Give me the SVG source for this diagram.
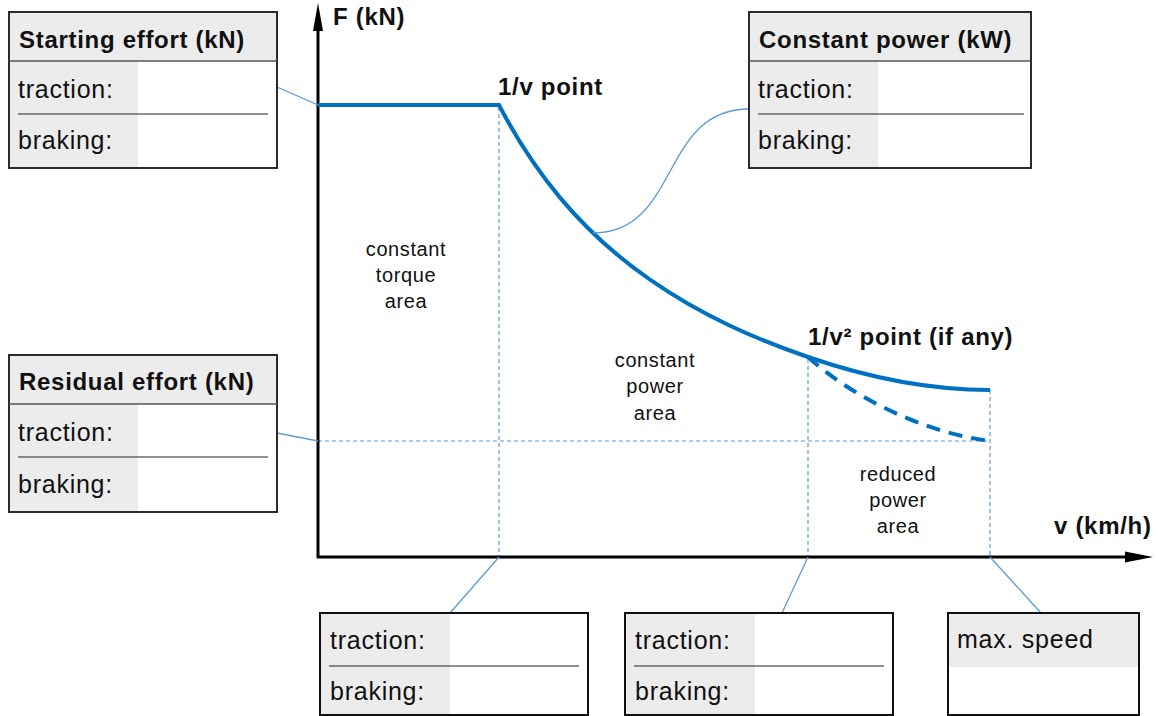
<svg xmlns="http://www.w3.org/2000/svg" width="1158" height="716" viewBox="0 0 1158 716">
<style>
.box{fill:#fff;stroke:#2b2b2b;stroke-width:2}
.bbox{fill:#fff;stroke:#111;stroke-width:2}
.gray{fill:#ececec}
.sep{stroke:#555;stroke-width:1.5}
.div{stroke:#222;stroke-width:1.2}
.hd{font-family:"Liberation Sans",Arial,sans-serif;font-weight:bold;font-size:24px;letter-spacing:0.7px;fill:#111}
.tx{font-family:"Liberation Sans",Arial,sans-serif;font-size:25px;letter-spacing:0.75px;fill:#111}
.ar{font-family:"Liberation Sans",Arial,sans-serif;font-size:20px;letter-spacing:0.6px;fill:#111;text-anchor:middle}
.con{fill:none;stroke:#5b9bd5;stroke-width:1.3}
.guide{fill:none;stroke:#5b9bd5;stroke-width:1.2;stroke-dasharray:4 3}
.curve{fill:none;stroke:#0070c0;stroke-width:4}
.axis{stroke:#000;stroke-width:3}
</style>

<g id="chart">
  <g id="guides">
    <line class="guide" x1="499" y1="107" x2="499" y2="556"/>
    <line class="guide" x1="808" y1="359" x2="808" y2="556"/>
    <line class="guide" x1="990" y1="390" x2="990" y2="556"/>
    <line class="guide" x1="318" y1="441" x2="990" y2="441"/>
  </g>
  <g id="axes">
    <line class="axis" x1="318" y1="558" x2="318" y2="28"/>
    <polygon points="318,3 313,31 323,31" fill="#000"/>
    <line class="axis" x1="317" y1="557" x2="1128" y2="557"/>
    <polygon points="1153,557 1125,551.5 1125,562.5" fill="#000"/>
    <text class="hd" x="333" y="25">F (kN)</text>
    <text class="hd" x="1054" y="534">v (km/h)</text>
  </g>
  <g id="curves">
    <path class="curve" d="M318,105 L499,105 C519.3,144.2 539.7,173.3 560,197.6 C590,233.5 620,258.8 650,279.6 C702.7,316.2 755.3,338.8 808,357 C868,377.7 930,390 990,390"/>
    <path class="curve" stroke-dasharray="14 9" d="M808,357 C850,395 920,432 990,441"/>
  </g>
  <g id="labels">
    <text class="hd" x="498" y="95">1/v point</text>
    <text class="hd" x="808" y="345">1/v² point (if any)</text>
    <text class="ar" x="406" y="256">constant</text>
    <text class="ar" x="406" y="282">torque</text>
    <text class="ar" x="406" y="308">area</text>
    <text class="ar" x="655" y="367">constant</text>
    <text class="ar" x="655" y="393">power</text>
    <text class="ar" x="655" y="420">area</text>
    <text class="ar" x="898" y="481">reduced</text>
    <text class="ar" x="898" y="507">power</text>
    <text class="ar" x="898" y="533">area</text>
  </g>
</g>

<g id="connectors">
  <line class="con" x1="277" y1="87" x2="318" y2="105"/>
  <path class="con" d="M749,109 C660,109 680,233 593,233"/>
  <line class="con" x1="277" y1="433" x2="318" y2="441"/>
  <line class="con" x1="499" y1="557" x2="450" y2="613"/>
  <line class="con" x1="808" y1="557" x2="782" y2="613"/>
  <line class="con" x1="990" y1="557" x2="1041" y2="613"/>
</g>

<g id="starting-effort">
  <rect class="box" x="9" y="12" width="268" height="156"/>
  <rect class="gray" x="10" y="13" width="266" height="48"/>
  <rect class="gray" x="10" y="61" width="128" height="106"/>
  <line class="sep" x1="9" y1="61" x2="277" y2="61"/>
  <line class="div" x1="18" y1="114" x2="268" y2="114"/>
  <text class="hd" x="19" y="48">Starting effort (kN)</text>
  <text class="tx" x="18" y="98">traction:</text>
  <text class="tx" x="18" y="149">braking:</text>
</g>

<g id="constant-power">
  <rect class="box" x="749" y="12" width="282" height="156"/>
  <rect class="gray" x="750" y="13" width="280" height="48"/>
  <rect class="gray" x="750" y="61" width="128" height="106"/>
  <line class="sep" x1="749" y1="61" x2="1031" y2="61"/>
  <line class="div" x1="758" y1="114" x2="1024" y2="114"/>
  <text class="hd" x="759" y="48">Constant power (kW)</text>
  <text class="tx" x="758" y="98">traction:</text>
  <text class="tx" x="758" y="149">braking:</text>
</g>

<g id="residual-effort">
  <rect class="box" x="9" y="355" width="268" height="157"/>
  <rect class="gray" x="10" y="356" width="266" height="48"/>
  <rect class="gray" x="10" y="404" width="128" height="107"/>
  <line class="sep" x1="9" y1="404" x2="277" y2="404"/>
  <line class="div" x1="18" y1="457" x2="268" y2="457"/>
  <text class="hd" x="19" y="390">Residual effort (kN)</text>
  <text class="tx" x="18" y="441">traction:</text>
  <text class="tx" x="18" y="493">braking:</text>
</g>

<g id="point-1v">
  <rect class="bbox" x="320" y="613" width="268" height="102"/>
  <rect class="gray" x="321" y="614" width="129" height="100"/>
  <line class="div" x1="329" y1="666" x2="579" y2="666"/>
  <text class="tx" x="330" y="649">traction:</text>
  <text class="tx" x="330" y="700">braking:</text>
</g>

<g id="point-1v2">
  <rect class="bbox" x="625" y="613" width="268" height="102"/>
  <rect class="gray" x="626" y="614" width="129" height="100"/>
  <line class="div" x1="634" y1="666" x2="884" y2="666"/>
  <text class="tx" x="635" y="649">traction:</text>
  <text class="tx" x="635" y="700">braking:</text>
</g>

<g id="max-speed">
  <rect class="bbox" x="948" y="613" width="191" height="102"/>
  <rect class="gray" x="949" y="614" width="189" height="53"/>
  <text class="tx" x="957" y="648">max. speed</text>
</g>
</svg>
